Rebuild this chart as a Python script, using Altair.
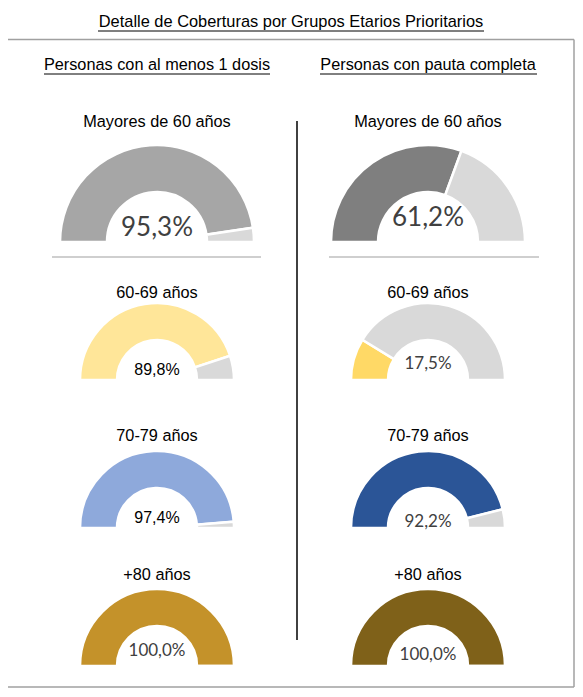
import math
import altair as alt
import pandas as pd

# ---------------- data ----------------
groups = ["Mayores de 60 años", "60-69 años", "70-79 años", "+80 años"]
dose1 = [95.3, 89.8, 97.4, 100.0]        # Personas con al menos 1 dosis (%)
complete = [61.2, 17.5, 92.2, 100.0]     # Personas con pauta completa (%)
title_text = "Detalle de Coberturas por Grupos Etarios Prioritarios"
col_titles = ["Personas con al menos 1 dosis", "Personas con pauta completa"]

# ---------------- styles / layout ----------------
fill_colors = [["#A6A6A6", "#FFE699", "#8EA9DB", "#C4922A"],
               ["#7F7F7F", "#FFD966", "#2B5597", "#7F6119"]]
rest_color = "#D9D9D9"
OFF = 8  # page margin


def P(v):
    return v - OFF


col_cx = [157, 428]
# per row: (cy, R, r, label_y)
rows = [(242, 97, 50, 122), (380, 77, 40, 293), (528, 77, 40, 436), (666, 77, 40, 575)]
# percentage text style per [col][row]: (y, font, size, color)
pct_style = [
    [(228, "Lato", 26, "#404040"), (370, "Liberation Sans", 16, "#000000"),
     (518, "Liberation Sans", 16, "#000000"), (651, "Lato", 17, "#404040")],
    [(218, "Lato", 26, "#404040"), (364, "Lato", 17, "#404040"),
     (522, "Lato", 17, "#404040"), (655, "Lato", 17, "#404040")],
]

theta_scale = alt.Scale(domain=[0, 100], range=[1.5 * math.pi, 2.5 * math.pi])

layers = []


def rule(x1, y1, x2=None, y2=None, color="#000000", width=1.0):
    enc = {"x": alt.value(P(x1)), "y": alt.value(P(y1))}
    if x2 is not None:
        enc["x2"] = alt.value(P(x2))
    if y2 is not None:
        enc["y2"] = alt.value(P(y2))
    return alt.Chart(pd.DataFrame({"a": [0]})).mark_rule(color=color, strokeWidth=width).encode(**enc)


# border box (four sides)
BX1, BX2, BY1, BY2 = 6, 574, 39.5, 687
box_c = "#A0A0A0"
layers.append(rule(BX1, BY1, x2=BX2, color=box_c, width=1.5))
layers.append(rule(BX1, BY2, x2=BX2, color=box_c, width=1.5))
layers.append(rule(BX1, BY1, y2=BY2, color=box_c, width=1.5))
layers.append(rule(BX2, BY1, y2=BY2, color=box_c, width=1.5))

# title + underline
layers.append(
    alt.Chart(pd.DataFrame({"t": [title_text]})).mark_text(
        font="Liberation Sans", fontSize=16.4, color="#000000", baseline="middle", align="center").encode(
        x=alt.value(P(291)), y=alt.value(P(22)), text="t:N")
)
layers.append(rule(98, 31, x2=484))

# column headers + underlines
hdr_ext = [(44, 270), (320, 537)]
for c in range(2):
    layers.append(
        alt.Chart(pd.DataFrame({"t": [col_titles[c]]})).mark_text(
            font="Liberation Sans", fontSize=16.3, color="#000000", baseline="middle", align="center").encode(
            x=alt.value(P(col_cx[c])), y=alt.value(P(65)), text="t:N")
    )
    layers.append(rule(hdr_ext[c][0], 74, x2=hdr_ext[c][1]))

# vertical divider
layers.append(rule(297, 121, y2=640, color="#111111", width=1.6))

# separators under first row
for (x1, x2) in [(52, 261), (329, 539)]:
    layers.append(rule(x1, 257, x2=x2, color="#BFBFBF", width=1.5))

# gauges
series = [dose1, complete]
for c in range(2):
    for i in range(4):
        v = series[c][i]
        cy, R, r, ly = rows[i]
        df = pd.DataFrame({
            "part": ["fill", "rest"],
            "value": [v, 100 - v],
            "k": [0, 1],
            "col": [fill_colors[c][i], rest_color],
        })
        layers.append(
            alt.Chart(df).mark_arc(radius=R, radius2=r, stroke="#FFFFFF", strokeWidth=2.5).encode(
                theta=alt.Theta("value:Q", stack=True, scale=theta_scale),
                color=alt.Color("col:N", scale=None),
                order=alt.Order("k:Q"),
                x=alt.value(P(col_cx[c])),
                y=alt.value(P(cy)),
            )
        )
        # group label
        layers.append(
            alt.Chart(pd.DataFrame({"g": [groups[i]]})).mark_text(
                font="Liberation Sans", fontSize=16.3, color="#000000", baseline="middle", align="center").encode(
                x=alt.value(P(col_cx[c])), y=alt.value(P(ly)), text="g:N")
        )
        # percentage
        py, pf, ps, pc = pct_style[c][i]
        layers.append(
            alt.Chart(pd.DataFrame({"value": [v]})).transform_calculate(
                lbl="replace(format(datum.value, '.1f'), '.', ',') + '%'"
            ).mark_text(font=pf, fontSize=ps, color=pc, baseline="middle", align="center").encode(
                x=alt.value(P(col_cx[c])), y=alt.value(P(py)), text="lbl:N")
        )

chart = alt.layer(*layers).properties(
    width=567, height=681, autosize=alt.AutoSizeParams(type="none"), padding=0, background="#FFFFFF"
).configure_view(stroke=None)

chart.save("out.html", embed_options={"renderer": "svg", "actions": False})
